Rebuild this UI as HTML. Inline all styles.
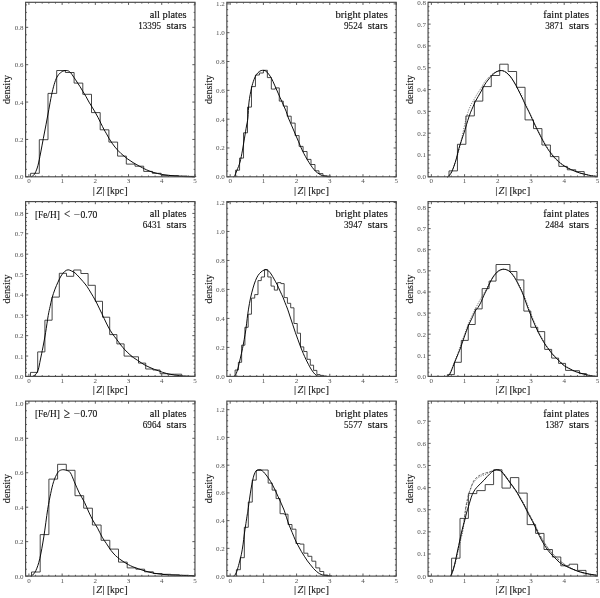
<!DOCTYPE html>
<html><head><meta charset="utf-8"><style>
html,body{margin:0;padding:0;background:#fff;overflow:hidden;}
svg{display:block;filter:grayscale(1);}
text{font-family:"Liberation Serif",serif;fill:#000;}
.tk{font-size:7.0px;fill:#505050;}
.tx{font-size:9.8px;fill:#111;stroke:#111;stroke-width:0.14px;}
.sym{font-size:12px;}
.sym2{font-size:14.5px;}
.bar{font-size:11.1px;}
.lb{font-size:10.5px;fill:#1a1a1a;stroke:#1a1a1a;stroke-width:0.14px;}
</style></head><body>
<svg width="600" height="598" viewBox="0 0 600 598">
<g><path d="M30.60,176.80 L30.60,173.30 L39.30,173.30 L39.30,139.70 L48.00,139.70 L48.00,93.40 L56.70,93.40 L56.70,70.50 L65.40,70.50 L65.40,72.50 L74.10,72.50 L74.10,83.10 L82.80,83.10 L82.80,94.30 L91.50,94.30 L91.50,112.60 L100.20,112.60 L100.20,129.80 L108.90,129.80 L108.90,142.10 L117.60,142.10 L117.60,156.10 L126.30,156.10 L126.30,164.10 L135.00,164.10 L135.00,166.20 L143.70,166.20 L143.70,171.40 L152.40,171.40 L152.40,173.30 L161.10,173.30 L161.10,175.30 L169.80,175.30 L169.80,175.50 L178.50,175.50 L178.50,176.00 L187.20,176.00 L187.20,176.40 L195.90,176.40 L195.90,176.80" fill="none" stroke="#262626" stroke-width="0.85"/><path d="M31.30,176.80 C31.62,176.60 32.55,176.25 33.20,175.60 C33.85,174.95 34.42,174.55 35.20,172.90 C35.98,171.25 37.00,169.02 37.90,165.70 C38.80,162.38 39.70,157.52 40.60,153.00 C41.50,148.48 42.38,143.40 43.30,138.60 C44.22,133.80 45.18,129.02 46.10,124.20 C47.02,119.38 47.90,114.52 48.80,109.70 C49.70,104.88 50.60,99.52 51.50,95.30 C52.40,91.08 53.30,87.42 54.20,84.40 C55.10,81.38 55.85,79.15 56.90,77.20 C57.95,75.25 59.15,73.80 60.50,72.70 C61.85,71.60 63.50,70.78 65.00,70.60 C66.50,70.42 68.00,70.45 69.50,71.60 C71.00,72.75 72.75,75.77 74.00,77.50 C75.25,79.23 76.00,80.48 77.00,82.00 C78.00,83.52 79.00,85.00 80.00,86.60 C81.00,88.20 82.00,89.93 83.00,91.60 C84.00,93.27 85.00,94.85 86.00,96.60 C87.00,98.35 87.98,100.35 89.00,102.10 C90.02,103.85 91.08,105.43 92.10,107.10 C93.12,108.77 94.10,110.35 95.10,112.10 C96.10,113.85 97.12,115.70 98.10,117.60 C99.08,119.50 100.02,121.52 101.00,123.50 C101.98,125.48 103.08,127.78 104.00,129.50 C104.92,131.22 105.67,132.32 106.50,133.80 C107.33,135.28 108.08,136.85 109.00,138.40 C109.92,139.95 111.00,141.65 112.00,143.10 C113.00,144.55 113.98,145.85 115.00,147.10 C116.02,148.35 117.08,149.52 118.10,150.60 C119.12,151.68 120.10,152.68 121.10,153.60 C122.10,154.52 123.10,155.27 124.10,156.10 C125.10,156.93 126.10,157.85 127.10,158.60 C128.10,159.35 129.10,159.93 130.10,160.60 C131.10,161.27 132.10,161.98 133.10,162.60 C134.10,163.22 135.10,163.73 136.10,164.30 C137.10,164.87 138.03,165.42 139.10,166.00 C140.17,166.58 141.27,167.17 142.50,167.80 C143.73,168.43 144.92,169.10 146.50,169.80 C148.08,170.50 150.17,171.38 152.00,172.00 C153.83,172.62 155.67,173.07 157.50,173.50 C159.33,173.93 161.17,174.28 163.00,174.60 C164.83,174.92 166.67,175.17 168.50,175.40 C170.33,175.63 172.17,175.83 174.00,176.00 C175.83,176.17 177.67,176.30 179.50,176.40 C181.33,176.50 182.42,176.53 185.00,176.60 C187.58,176.67 193.33,176.77 195.00,176.80" fill="none" stroke="#000" stroke-width="0.95" stroke-linejoin="round"/><path d="M28.92,176.80v-2.60M28.92,2.30v2.60M35.56,176.80v-1.30M35.56,2.30v1.30M42.20,176.80v-1.30M42.20,2.30v1.30M48.84,176.80v-1.30M48.84,2.30v1.30M55.49,176.80v-1.30M55.49,2.30v1.30M62.13,176.80v-2.60M62.13,2.30v2.60M68.77,176.80v-1.30M68.77,2.30v1.30M75.41,176.80v-1.30M75.41,2.30v1.30M82.05,176.80v-1.30M82.05,2.30v1.30M88.69,176.80v-1.30M88.69,2.30v1.30M95.33,176.80v-2.60M95.33,2.30v2.60M101.97,176.80v-1.30M101.97,2.30v1.30M108.61,176.80v-1.30M108.61,2.30v1.30M115.26,176.80v-1.30M115.26,2.30v1.30M121.90,176.80v-1.30M121.90,2.30v1.30M128.54,176.80v-2.60M128.54,2.30v2.60M135.18,176.80v-1.30M135.18,2.30v1.30M141.82,176.80v-1.30M141.82,2.30v1.30M148.46,176.80v-1.30M148.46,2.30v1.30M155.10,176.80v-1.30M155.10,2.30v1.30M161.74,176.80v-2.60M161.74,2.30v2.60M168.39,176.80v-1.30M168.39,2.30v1.30M175.03,176.80v-1.30M175.03,2.30v1.30M181.67,176.80v-1.30M181.67,2.30v1.30M188.31,176.80v-1.30M188.31,2.30v1.30M194.95,176.80v-2.60M194.95,2.30v2.60M25.60,176.80h2.60M194.95,176.80h-2.60M25.60,169.33h1.30M194.95,169.33h-1.30M25.60,161.85h1.30M194.95,161.85h-1.30M25.60,154.38h1.30M194.95,154.38h-1.30M25.60,146.91h1.30M194.95,146.91h-1.30M25.60,139.43h2.60M194.95,139.43h-2.60M25.60,131.96h1.30M194.95,131.96h-1.30M25.60,124.49h1.30M194.95,124.49h-1.30M25.60,117.01h1.30M194.95,117.01h-1.30M25.60,109.54h1.30M194.95,109.54h-1.30M25.60,102.07h2.60M194.95,102.07h-2.60M25.60,94.59h1.30M194.95,94.59h-1.30M25.60,87.12h1.30M194.95,87.12h-1.30M25.60,79.65h1.30M194.95,79.65h-1.30M25.60,72.17h1.30M194.95,72.17h-1.30M25.60,64.70h2.60M194.95,64.70h-2.60M25.60,57.23h1.30M194.95,57.23h-1.30M25.60,49.76h1.30M194.95,49.76h-1.30M25.60,42.28h1.30M194.95,42.28h-1.30M25.60,34.81h1.30M194.95,34.81h-1.30M25.60,27.34h2.60M194.95,27.34h-2.60M25.60,19.86h1.30M194.95,19.86h-1.30M25.60,12.39h1.30M194.95,12.39h-1.30M25.60,4.92h1.30M194.95,4.92h-1.30" stroke="#484848" stroke-width="0.9" fill="none"/><rect x="25.60" y="2.30" width="169.35" height="174.50" fill="none" stroke="#484848" stroke-width="1.15"/><text x="28.92" y="183.40" class="tk" text-anchor="middle">0</text><text x="62.13" y="183.40" class="tk" text-anchor="middle">1</text><text x="95.33" y="183.40" class="tk" text-anchor="middle">2</text><text x="128.54" y="183.40" class="tk" text-anchor="middle">3</text><text x="161.74" y="183.40" class="tk" text-anchor="middle">4</text><text x="194.95" y="183.40" class="tk" text-anchor="middle">5</text><text x="23.60" y="179.30" class="tk" text-anchor="end">0.0</text><text x="23.60" y="141.93" class="tk" text-anchor="end">0.2</text><text x="23.60" y="104.57" class="tk" text-anchor="end">0.4</text><text x="23.60" y="67.20" class="tk" text-anchor="end">0.6</text><text x="23.60" y="29.84" class="tk" text-anchor="end">0.8</text><text x="93.77" y="193.70" class="lb bar" text-anchor="middle">|</text><text x="103.47" y="193.70" class="lb bar" text-anchor="middle">|</text><text x="108.87" y="193.70" class="lb bar" text-anchor="middle">[</text><text x="125.97" y="193.70" class="lb bar" text-anchor="middle">]</text><text x="99.07" y="193.70" class="lb" font-style="italic" text-anchor="middle">Z</text><text x="116.97" y="193.70" class="lb" text-anchor="middle" textLength="13.8" lengthAdjust="spacingAndGlyphs">kpc</text><text transform="translate(10.40,89.55) rotate(-90)" class="lb" text-anchor="middle" textLength="29.10" lengthAdjust="spacingAndGlyphs">density</text><text x="186.55" y="17.75" class="tx" text-anchor="end" textLength="36.90" lengthAdjust="spacingAndGlyphs">all plates</text><text x="161.05" y="28.90" class="tx" text-anchor="end" textLength="22.80" lengthAdjust="spacingAndGlyphs">13395</text><text x="166.55" y="28.90" class="tx" textLength="20.00" lengthAdjust="spacingAndGlyphs">stars</text></g>
<g><path d="M235.60,176.80 L235.60,170.20 L239.57,170.20 L239.57,158.10 L243.54,158.10 L243.54,132.80 L247.51,132.80 L247.51,107.10 L251.48,107.10 L251.48,86.60 L255.45,86.60 L255.45,75.00 L259.42,75.00 L259.42,73.00 L263.39,73.00 L263.39,70.30 L267.36,70.30 L267.36,77.60 L271.33,77.60 L271.33,89.10 L275.30,89.10 L275.30,87.90 L279.27,87.90 L279.27,101.10 L283.24,101.10 L283.24,106.10 L287.21,106.10 L287.21,116.20 L291.18,116.20 L291.18,123.10 L295.15,123.10 L295.15,135.60 L299.12,135.60 L299.12,146.40 L303.09,146.40 L303.09,151.50 L307.06,151.50 L307.06,159.40 L311.03,159.40 L311.03,164.50 L315.00,164.50 L315.00,170.80 L318.97,170.80 L318.97,173.60 L322.94,173.60 L322.94,175.70 L326.91,175.70 L326.91,176.10 L330.88,176.10 L330.88,176.80" fill="none" stroke="#262626" stroke-width="0.85"/><path d="M233.50,176.80 C233.67,176.70 233.92,177.30 234.50,176.20 C235.08,175.10 236.08,172.55 237.00,170.20 C237.92,167.85 239.08,165.45 240.00,162.10 C240.92,158.75 241.75,154.10 242.50,150.10 C243.25,146.10 243.83,142.12 244.50,138.10 C245.17,134.08 245.93,129.35 246.50,126.00 C247.07,122.65 247.48,121.98 247.90,118.00 C248.32,114.02 248.40,107.08 249.00,102.10 C249.60,97.12 250.67,91.85 251.50,88.10 C252.33,84.35 253.17,81.87 254.00,79.60 C254.83,77.33 255.57,75.88 256.50,74.50 C257.43,73.12 258.58,72.00 259.60,71.30 C260.62,70.60 261.60,70.35 262.60,70.30 C263.60,70.25 264.60,70.38 265.60,71.00 C266.60,71.62 267.60,72.73 268.60,74.00 C269.60,75.27 270.60,76.75 271.60,78.60 C272.60,80.45 273.52,82.68 274.60,85.10 C275.68,87.52 276.85,90.27 278.10,93.10 C279.35,95.93 280.77,99.08 282.10,102.10 C283.43,105.12 285.05,108.55 286.10,111.20 C287.15,113.85 287.45,115.55 288.40,118.00 C289.35,120.45 290.67,123.25 291.80,125.90 C292.93,128.55 294.07,131.25 295.20,133.90 C296.33,136.55 297.47,139.15 298.60,141.80 C299.73,144.45 300.85,147.33 302.00,149.80 C303.15,152.27 304.35,154.52 305.50,156.60 C306.65,158.68 307.77,160.50 308.90,162.30 C310.03,164.10 311.17,165.88 312.30,167.40 C313.43,168.92 314.57,170.32 315.70,171.40 C316.83,172.48 317.97,173.18 319.10,173.90 C320.23,174.62 321.37,175.27 322.50,175.70 C323.63,176.13 324.57,176.32 325.90,176.50 C327.23,176.68 329.73,176.75 330.50,176.80" fill="none" stroke="#000" stroke-width="0.95" stroke-linejoin="round"/><path d="M230.17,176.80v-2.60M230.17,2.30v2.60M236.81,176.80v-1.30M236.81,2.30v1.30M243.45,176.80v-1.30M243.45,2.30v1.30M250.09,176.80v-1.30M250.09,2.30v1.30M256.74,176.80v-1.30M256.74,2.30v1.30M263.38,176.80v-2.60M263.38,2.30v2.60M270.02,176.80v-1.30M270.02,2.30v1.30M276.66,176.80v-1.30M276.66,2.30v1.30M283.30,176.80v-1.30M283.30,2.30v1.30M289.94,176.80v-1.30M289.94,2.30v1.30M296.58,176.80v-2.60M296.58,2.30v2.60M303.22,176.80v-1.30M303.22,2.30v1.30M309.86,176.80v-1.30M309.86,2.30v1.30M316.51,176.80v-1.30M316.51,2.30v1.30M323.15,176.80v-1.30M323.15,2.30v1.30M329.79,176.80v-2.60M329.79,2.30v2.60M336.43,176.80v-1.30M336.43,2.30v1.30M343.07,176.80v-1.30M343.07,2.30v1.30M349.71,176.80v-1.30M349.71,2.30v1.30M356.35,176.80v-1.30M356.35,2.30v1.30M362.99,176.80v-2.60M362.99,2.30v2.60M369.64,176.80v-1.30M369.64,2.30v1.30M376.28,176.80v-1.30M376.28,2.30v1.30M382.92,176.80v-1.30M382.92,2.30v1.30M389.56,176.80v-1.30M389.56,2.30v1.30M396.20,176.80v-2.60M396.20,2.30v2.60M226.85,176.80h2.60M396.20,176.80h-2.60M226.85,171.04h1.30M396.20,171.04h-1.30M226.85,165.27h1.30M396.20,165.27h-1.30M226.85,159.51h1.30M396.20,159.51h-1.30M226.85,153.74h1.30M396.20,153.74h-1.30M226.85,147.98h2.60M396.20,147.98h-2.60M226.85,142.22h1.30M396.20,142.22h-1.30M226.85,136.45h1.30M396.20,136.45h-1.30M226.85,130.69h1.30M396.20,130.69h-1.30M226.85,124.93h1.30M396.20,124.93h-1.30M226.85,119.16h2.60M396.20,119.16h-2.60M226.85,113.40h1.30M396.20,113.40h-1.30M226.85,107.63h1.30M396.20,107.63h-1.30M226.85,101.87h1.30M396.20,101.87h-1.30M226.85,96.11h1.30M396.20,96.11h-1.30M226.85,90.34h2.60M396.20,90.34h-2.60M226.85,84.58h1.30M396.20,84.58h-1.30M226.85,78.81h1.30M396.20,78.81h-1.30M226.85,73.05h1.30M396.20,73.05h-1.30M226.85,67.29h1.30M396.20,67.29h-1.30M226.85,61.52h2.60M396.20,61.52h-2.60M226.85,55.76h1.30M396.20,55.76h-1.30M226.85,50.00h1.30M396.20,50.00h-1.30M226.85,44.23h1.30M396.20,44.23h-1.30M226.85,38.47h1.30M396.20,38.47h-1.30M226.85,32.70h2.60M396.20,32.70h-2.60M226.85,26.94h1.30M396.20,26.94h-1.30M226.85,21.18h1.30M396.20,21.18h-1.30M226.85,15.41h1.30M396.20,15.41h-1.30M226.85,9.65h1.30M396.20,9.65h-1.30M226.85,3.89h2.60M396.20,3.89h-2.60" stroke="#484848" stroke-width="0.9" fill="none"/><rect x="226.85" y="2.30" width="169.35" height="174.50" fill="none" stroke="#484848" stroke-width="1.15"/><text x="230.17" y="183.40" class="tk" text-anchor="middle">0</text><text x="263.38" y="183.40" class="tk" text-anchor="middle">1</text><text x="296.58" y="183.40" class="tk" text-anchor="middle">2</text><text x="329.79" y="183.40" class="tk" text-anchor="middle">3</text><text x="362.99" y="183.40" class="tk" text-anchor="middle">4</text><text x="396.20" y="183.40" class="tk" text-anchor="middle">5</text><text x="224.85" y="179.30" class="tk" text-anchor="end">0.0</text><text x="224.85" y="150.48" class="tk" text-anchor="end">0.2</text><text x="224.85" y="121.66" class="tk" text-anchor="end">0.4</text><text x="224.85" y="92.84" class="tk" text-anchor="end">0.6</text><text x="224.85" y="64.02" class="tk" text-anchor="end">0.8</text><text x="224.85" y="35.20" class="tk" text-anchor="end">1.0</text><text x="224.85" y="6.39" class="tk" text-anchor="end">1.2</text><text x="295.02" y="193.70" class="lb bar" text-anchor="middle">|</text><text x="304.72" y="193.70" class="lb bar" text-anchor="middle">|</text><text x="310.12" y="193.70" class="lb bar" text-anchor="middle">[</text><text x="327.22" y="193.70" class="lb bar" text-anchor="middle">]</text><text x="300.32" y="193.70" class="lb" font-style="italic" text-anchor="middle">Z</text><text x="318.22" y="193.70" class="lb" text-anchor="middle" textLength="13.8" lengthAdjust="spacingAndGlyphs">kpc</text><text transform="translate(211.65,89.55) rotate(-90)" class="lb" text-anchor="middle" textLength="29.10" lengthAdjust="spacingAndGlyphs">density</text><text x="387.80" y="17.75" class="tx" text-anchor="end" textLength="52.20" lengthAdjust="spacingAndGlyphs">bright plates</text><text x="362.30" y="28.90" class="tx" text-anchor="end" textLength="18.24" lengthAdjust="spacingAndGlyphs">9524</text><text x="367.80" y="28.90" class="tx" textLength="20.00" lengthAdjust="spacingAndGlyphs">stars</text></g>
<g><path d="M449.00,176.80 L449.00,170.90 L457.45,170.90 L457.45,144.30 L465.90,144.30 L465.90,115.90 L474.35,115.90 L474.35,101.10 L482.80,101.10 L482.80,86.60 L491.25,86.60 L491.25,75.50 L499.70,75.50 L499.70,64.20 L508.15,64.20 L508.15,71.50 L516.60,71.50 L516.60,87.30 L525.05,87.30 L525.05,119.90 L533.50,119.90 L533.50,128.60 L541.95,128.60 L541.95,145.00 L550.40,145.00 L550.40,156.60 L558.85,156.60 L558.85,166.40 L567.30,166.40 L567.30,169.80 L575.75,169.80 L575.75,171.60 L584.20,171.60 L584.20,176.80" fill="none" stroke="#262626" stroke-width="0.85"/><path d="M448.00,176.50 C448.67,175.58 450.67,173.75 452.00,171.00 C453.33,168.25 454.83,163.50 456.00,160.00 C457.17,156.50 458.00,153.83 459.00,150.00 C460.00,146.17 460.92,141.82 462.00,137.00 C463.08,132.18 464.42,125.50 465.50,121.10 C466.58,116.70 467.50,113.48 468.50,110.60 C469.50,107.72 470.48,105.82 471.50,103.80 C472.52,101.78 473.58,100.25 474.60,98.50 C475.62,96.75 476.60,94.92 477.60,93.30 C478.60,91.68 479.37,90.77 480.60,88.80 C481.83,86.83 483.43,83.63 485.00,81.50 C486.57,79.37 488.33,77.55 490.00,76.00 C491.67,74.45 493.33,73.08 495.00,72.20 C496.67,71.32 498.33,70.77 500.00,70.70 C501.67,70.63 503.33,70.83 505.00,71.80 C506.67,72.77 508.33,74.55 510.00,76.50 C511.67,78.45 513.33,80.92 515.00,83.50 C516.67,86.08 518.33,88.75 520.00,92.00 C521.67,95.25 523.33,99.42 525.00,103.00 C526.67,106.58 528.33,109.92 530.00,113.50 C531.67,117.08 533.33,121.00 535.00,124.50 C536.67,128.00 538.33,131.33 540.00,134.50 C541.67,137.67 543.33,140.75 545.00,143.50 C546.67,146.25 548.33,148.67 550.00,151.00 C551.67,153.33 553.33,155.58 555.00,157.50 C556.67,159.42 558.33,161.03 560.00,162.50 C561.67,163.97 563.33,165.22 565.00,166.30 C566.67,167.38 568.33,168.18 570.00,169.00 C571.67,169.82 573.33,170.53 575.00,171.20 C576.67,171.87 578.33,172.47 580.00,173.00 C581.67,173.53 583.33,174.00 585.00,174.40 C586.67,174.80 588.00,175.08 590.00,175.40 C592.00,175.72 595.83,176.15 597.00,176.30" fill="none" stroke="#4a4a4a" stroke-width="0.8" stroke-dasharray="1.1,1.3"/><path d="M447.00,176.80 C447.17,176.78 447.33,177.30 448.00,176.70 C448.67,176.10 450.00,174.97 451.00,173.20 C452.00,171.43 453.08,168.62 454.00,166.10 C454.92,163.58 455.67,161.10 456.50,158.10 C457.33,155.10 458.15,151.10 459.00,148.10 C459.85,145.10 460.58,143.22 461.60,140.10 C462.62,136.98 464.07,132.68 465.10,129.40 C466.13,126.12 466.92,123.17 467.80,120.40 C468.68,117.63 469.53,115.07 470.40,112.80 C471.27,110.53 472.18,108.67 473.00,106.80 C473.82,104.93 474.42,103.35 475.30,101.60 C476.18,99.85 477.30,98.07 478.30,96.30 C479.30,94.53 480.27,92.88 481.30,91.00 C482.33,89.12 483.38,86.83 484.50,85.00 C485.62,83.17 486.75,81.62 488.00,80.00 C489.25,78.38 490.67,76.63 492.00,75.30 C493.33,73.97 494.67,72.78 496.00,72.00 C497.33,71.22 498.83,70.80 500.00,70.60 C501.17,70.40 502.00,70.52 503.00,70.80 C504.00,71.08 504.83,71.43 506.00,72.30 C507.17,73.17 508.67,74.38 510.00,76.00 C511.33,77.62 512.67,79.75 514.00,82.00 C515.33,84.25 516.67,86.92 518.00,89.50 C519.33,92.08 520.83,95.08 522.00,97.50 C523.17,99.92 523.67,101.23 525.00,104.00 C526.33,106.77 528.33,110.58 530.00,114.10 C531.67,117.62 533.33,121.60 535.00,125.10 C536.67,128.60 538.32,131.83 540.00,135.10 C541.68,138.37 543.53,142.00 545.10,144.70 C546.67,147.40 547.95,149.25 549.40,151.30 C550.85,153.35 552.32,155.32 553.80,157.00 C555.28,158.68 556.82,160.08 558.30,161.40 C559.78,162.72 561.23,163.87 562.70,164.90 C564.17,165.93 565.63,166.78 567.10,167.60 C568.57,168.42 570.03,169.13 571.50,169.80 C572.97,170.47 574.43,171.03 575.90,171.60 C577.37,172.17 578.82,172.77 580.30,173.20 C581.78,173.63 583.32,173.85 584.80,174.20 C586.28,174.55 587.73,175.00 589.20,175.30 C590.67,175.60 592.28,175.82 593.60,176.00 C594.92,176.18 596.52,176.33 597.10,176.40" fill="none" stroke="#000" stroke-width="0.95" stroke-linejoin="round"/><path d="M431.37,176.80v-2.60M431.37,2.30v2.60M438.01,176.80v-1.30M438.01,2.30v1.30M444.65,176.80v-1.30M444.65,2.30v1.30M451.29,176.80v-1.30M451.29,2.30v1.30M457.94,176.80v-1.30M457.94,2.30v1.30M464.58,176.80v-2.60M464.58,2.30v2.60M471.22,176.80v-1.30M471.22,2.30v1.30M477.86,176.80v-1.30M477.86,2.30v1.30M484.50,176.80v-1.30M484.50,2.30v1.30M491.14,176.80v-1.30M491.14,2.30v1.30M497.78,176.80v-2.60M497.78,2.30v2.60M504.42,176.80v-1.30M504.42,2.30v1.30M511.06,176.80v-1.30M511.06,2.30v1.30M517.71,176.80v-1.30M517.71,2.30v1.30M524.35,176.80v-1.30M524.35,2.30v1.30M530.99,176.80v-2.60M530.99,2.30v2.60M537.63,176.80v-1.30M537.63,2.30v1.30M544.27,176.80v-1.30M544.27,2.30v1.30M550.91,176.80v-1.30M550.91,2.30v1.30M557.55,176.80v-1.30M557.55,2.30v1.30M564.19,176.80v-2.60M564.19,2.30v2.60M570.84,176.80v-1.30M570.84,2.30v1.30M577.48,176.80v-1.30M577.48,2.30v1.30M584.12,176.80v-1.30M584.12,2.30v1.30M590.76,176.80v-1.30M590.76,2.30v1.30M597.40,176.80v-2.60M597.40,2.30v2.60M428.05,176.80h2.60M597.40,176.80h-2.60M428.05,172.44h1.30M597.40,172.44h-1.30M428.05,168.08h1.30M597.40,168.08h-1.30M428.05,163.71h1.30M597.40,163.71h-1.30M428.05,159.35h1.30M597.40,159.35h-1.30M428.05,154.99h2.60M597.40,154.99h-2.60M428.05,150.62h1.30M597.40,150.62h-1.30M428.05,146.26h1.30M597.40,146.26h-1.30M428.05,141.90h1.30M597.40,141.90h-1.30M428.05,137.54h1.30M597.40,137.54h-1.30M428.05,133.18h2.60M597.40,133.18h-2.60M428.05,128.81h1.30M597.40,128.81h-1.30M428.05,124.45h1.30M597.40,124.45h-1.30M428.05,120.09h1.30M597.40,120.09h-1.30M428.05,115.73h1.30M597.40,115.73h-1.30M428.05,111.36h2.60M597.40,111.36h-2.60M428.05,107.00h1.30M597.40,107.00h-1.30M428.05,102.64h1.30M597.40,102.64h-1.30M428.05,98.28h1.30M597.40,98.28h-1.30M428.05,93.91h1.30M597.40,93.91h-1.30M428.05,89.55h2.60M597.40,89.55h-2.60M428.05,85.19h1.30M597.40,85.19h-1.30M428.05,80.83h1.30M597.40,80.83h-1.30M428.05,76.46h1.30M597.40,76.46h-1.30M428.05,72.10h1.30M597.40,72.10h-1.30M428.05,67.74h2.60M597.40,67.74h-2.60M428.05,63.38h1.30M597.40,63.38h-1.30M428.05,59.01h1.30M597.40,59.01h-1.30M428.05,54.65h1.30M597.40,54.65h-1.30M428.05,50.29h1.30M597.40,50.29h-1.30M428.05,45.93h2.60M597.40,45.93h-2.60M428.05,41.56h1.30M597.40,41.56h-1.30M428.05,37.20h1.30M597.40,37.20h-1.30M428.05,32.84h1.30M597.40,32.84h-1.30M428.05,28.48h1.30M597.40,28.48h-1.30M428.05,24.11h2.60M597.40,24.11h-2.60M428.05,19.75h1.30M597.40,19.75h-1.30M428.05,15.39h1.30M597.40,15.39h-1.30M428.05,11.03h1.30M597.40,11.03h-1.30M428.05,6.66h1.30M597.40,6.66h-1.30M428.05,2.30h2.60M597.40,2.30h-2.60" stroke="#484848" stroke-width="0.9" fill="none"/><rect x="428.05" y="2.30" width="169.35" height="174.50" fill="none" stroke="#484848" stroke-width="1.15"/><text x="431.37" y="183.40" class="tk" text-anchor="middle">0</text><text x="464.58" y="183.40" class="tk" text-anchor="middle">1</text><text x="497.78" y="183.40" class="tk" text-anchor="middle">2</text><text x="530.99" y="183.40" class="tk" text-anchor="middle">3</text><text x="564.19" y="183.40" class="tk" text-anchor="middle">4</text><text x="597.40" y="183.40" class="tk" text-anchor="middle">5</text><text x="426.05" y="179.30" class="tk" text-anchor="end">0.0</text><text x="426.05" y="157.49" class="tk" text-anchor="end">0.1</text><text x="426.05" y="135.68" class="tk" text-anchor="end">0.2</text><text x="426.05" y="113.86" class="tk" text-anchor="end">0.3</text><text x="426.05" y="92.05" class="tk" text-anchor="end">0.4</text><text x="426.05" y="70.24" class="tk" text-anchor="end">0.5</text><text x="426.05" y="48.42" class="tk" text-anchor="end">0.6</text><text x="426.05" y="26.61" class="tk" text-anchor="end">0.7</text><text x="426.05" y="4.80" class="tk" text-anchor="end">0.8</text><text x="496.23" y="193.70" class="lb bar" text-anchor="middle">|</text><text x="505.93" y="193.70" class="lb bar" text-anchor="middle">|</text><text x="511.33" y="193.70" class="lb bar" text-anchor="middle">[</text><text x="528.43" y="193.70" class="lb bar" text-anchor="middle">]</text><text x="501.53" y="193.70" class="lb" font-style="italic" text-anchor="middle">Z</text><text x="519.43" y="193.70" class="lb" text-anchor="middle" textLength="13.8" lengthAdjust="spacingAndGlyphs">kpc</text><text transform="translate(412.85,89.55) rotate(-90)" class="lb" text-anchor="middle" textLength="29.10" lengthAdjust="spacingAndGlyphs">density</text><text x="589.00" y="17.75" class="tx" text-anchor="end" textLength="45.70" lengthAdjust="spacingAndGlyphs">faint plates</text><text x="563.50" y="28.90" class="tx" text-anchor="end" textLength="18.24" lengthAdjust="spacingAndGlyphs">3871</text><text x="569.00" y="28.90" class="tx" textLength="20.00" lengthAdjust="spacingAndGlyphs">stars</text></g>
<g><path d="M30.50,376.40 L30.50,372.40 L37.70,372.40 L37.70,351.90 L44.90,351.90 L44.90,320.20 L52.10,320.20 L52.10,297.10 L59.30,297.10 L59.30,273.30 L66.50,273.30 L66.50,276.30 L73.70,276.30 L73.70,270.00 L80.90,270.00 L80.90,273.50 L88.10,273.50 L88.10,285.30 L95.30,285.30 L95.30,301.30 L102.50,301.30 L102.50,317.20 L109.70,317.20 L109.70,334.60 L116.90,334.60 L116.90,343.90 L124.10,343.90 L124.10,356.10 L131.30,356.10 L131.30,356.80 L138.50,356.80 L138.50,363.10 L145.70,363.10 L145.70,369.00 L152.90,369.00 L152.90,370.00 L160.10,370.00 L160.10,373.70 L167.30,373.70 L167.30,374.20 L174.50,374.20 L174.50,374.20 L181.70,374.20 L181.70,376.40" fill="none" stroke="#262626" stroke-width="0.85"/><path d="M32.50,376.40 C33.05,376.05 34.82,375.52 35.80,374.30 C36.78,373.08 37.65,371.48 38.40,369.10 C39.15,366.72 39.53,363.70 40.30,360.00 C41.07,356.30 42.12,351.47 43.00,346.90 C43.88,342.33 44.73,337.82 45.60,332.60 C46.47,327.38 47.45,319.95 48.20,315.60 C48.95,311.25 49.47,309.42 50.10,306.50 C50.73,303.58 51.18,301.00 52.00,298.10 C52.82,295.20 54.00,291.77 55.00,289.10 C56.00,286.43 57.00,284.28 58.00,282.10 C59.00,279.92 59.90,277.77 61.00,276.00 C62.10,274.23 63.42,272.53 64.60,271.50 C65.78,270.47 66.93,269.88 68.10,269.80 C69.27,269.72 70.43,270.47 71.60,271.00 C72.77,271.53 73.85,271.98 75.10,273.00 C76.35,274.02 77.77,275.67 79.10,277.10 C80.43,278.53 81.77,280.02 83.10,281.60 C84.43,283.18 85.77,284.68 87.10,286.60 C88.43,288.52 89.75,290.85 91.10,293.10 C92.45,295.35 93.85,297.60 95.20,300.10 C96.55,302.60 97.70,305.02 99.20,308.10 C100.70,311.18 102.68,315.45 104.20,318.60 C105.72,321.75 106.92,324.45 108.30,327.00 C109.68,329.55 111.10,331.83 112.50,333.90 C113.90,335.97 115.32,337.55 116.70,339.40 C118.08,341.25 119.42,343.25 120.80,345.00 C122.18,346.75 123.60,348.40 125.00,349.90 C126.40,351.40 127.82,352.73 129.20,354.00 C130.58,355.27 131.92,356.45 133.30,357.50 C134.68,358.55 136.10,359.37 137.50,360.30 C138.90,361.23 140.32,362.22 141.70,363.10 C143.08,363.98 144.42,364.87 145.80,365.60 C147.18,366.33 148.60,366.88 150.00,367.50 C151.40,368.12 152.82,368.77 154.20,369.30 C155.58,369.83 156.92,370.20 158.30,370.70 C159.68,371.20 161.10,371.83 162.50,372.30 C163.90,372.77 165.32,373.15 166.70,373.50 C168.08,373.85 169.42,374.13 170.80,374.40 C172.18,374.67 173.60,374.90 175.00,375.10 C176.40,375.30 177.80,375.46 179.20,375.60 C180.60,375.74 181.65,375.84 183.40,375.95 C185.15,376.06 187.77,376.18 189.70,376.25 C191.63,376.32 194.12,376.33 195.00,376.35" fill="none" stroke="#000" stroke-width="0.95" stroke-linejoin="round"/><path d="M28.92,376.40v-2.60M28.92,201.60v2.60M35.56,376.40v-1.30M35.56,201.60v1.30M42.20,376.40v-1.30M42.20,201.60v1.30M48.84,376.40v-1.30M48.84,201.60v1.30M55.49,376.40v-1.30M55.49,201.60v1.30M62.13,376.40v-2.60M62.13,201.60v2.60M68.77,376.40v-1.30M68.77,201.60v1.30M75.41,376.40v-1.30M75.41,201.60v1.30M82.05,376.40v-1.30M82.05,201.60v1.30M88.69,376.40v-1.30M88.69,201.60v1.30M95.33,376.40v-2.60M95.33,201.60v2.60M101.97,376.40v-1.30M101.97,201.60v1.30M108.61,376.40v-1.30M108.61,201.60v1.30M115.26,376.40v-1.30M115.26,201.60v1.30M121.90,376.40v-1.30M121.90,201.60v1.30M128.54,376.40v-2.60M128.54,201.60v2.60M135.18,376.40v-1.30M135.18,201.60v1.30M141.82,376.40v-1.30M141.82,201.60v1.30M148.46,376.40v-1.30M148.46,201.60v1.30M155.10,376.40v-1.30M155.10,201.60v1.30M161.74,376.40v-2.60M161.74,201.60v2.60M168.39,376.40v-1.30M168.39,201.60v1.30M175.03,376.40v-1.30M175.03,201.60v1.30M181.67,376.40v-1.30M181.67,201.60v1.30M188.31,376.40v-1.30M188.31,201.60v1.30M194.95,376.40v-2.60M194.95,201.60v2.60M25.60,376.40h2.60M194.95,376.40h-2.60M25.60,372.33h1.30M194.95,372.33h-1.30M25.60,368.25h1.30M194.95,368.25h-1.30M25.60,364.18h1.30M194.95,364.18h-1.30M25.60,360.10h1.30M194.95,360.10h-1.30M25.60,356.03h2.60M194.95,356.03h-2.60M25.60,351.95h1.30M194.95,351.95h-1.30M25.60,347.88h1.30M194.95,347.88h-1.30M25.60,343.80h1.30M194.95,343.80h-1.30M25.60,339.73h1.30M194.95,339.73h-1.30M25.60,335.65h2.60M194.95,335.65h-2.60M25.60,331.58h1.30M194.95,331.58h-1.30M25.60,327.50h1.30M194.95,327.50h-1.30M25.60,323.43h1.30M194.95,323.43h-1.30M25.60,319.36h1.30M194.95,319.36h-1.30M25.60,315.28h2.60M194.95,315.28h-2.60M25.60,311.21h1.30M194.95,311.21h-1.30M25.60,307.13h1.30M194.95,307.13h-1.30M25.60,303.06h1.30M194.95,303.06h-1.30M25.60,298.98h1.30M194.95,298.98h-1.30M25.60,294.91h2.60M194.95,294.91h-2.60M25.60,290.83h1.30M194.95,290.83h-1.30M25.60,286.76h1.30M194.95,286.76h-1.30M25.60,282.68h1.30M194.95,282.68h-1.30M25.60,278.61h1.30M194.95,278.61h-1.30M25.60,274.54h2.60M194.95,274.54h-2.60M25.60,270.46h1.30M194.95,270.46h-1.30M25.60,266.39h1.30M194.95,266.39h-1.30M25.60,262.31h1.30M194.95,262.31h-1.30M25.60,258.24h1.30M194.95,258.24h-1.30M25.60,254.16h2.60M194.95,254.16h-2.60M25.60,250.09h1.30M194.95,250.09h-1.30M25.60,246.01h1.30M194.95,246.01h-1.30M25.60,241.94h1.30M194.95,241.94h-1.30M25.60,237.86h1.30M194.95,237.86h-1.30M25.60,233.79h2.60M194.95,233.79h-2.60M25.60,229.71h1.30M194.95,229.71h-1.30M25.60,225.64h1.30M194.95,225.64h-1.30M25.60,221.57h1.30M194.95,221.57h-1.30M25.60,217.49h1.30M194.95,217.49h-1.30M25.60,213.42h2.60M194.95,213.42h-2.60M25.60,209.34h1.30M194.95,209.34h-1.30M25.60,205.27h1.30M194.95,205.27h-1.30" stroke="#484848" stroke-width="0.9" fill="none"/><rect x="25.60" y="201.60" width="169.35" height="174.80" fill="none" stroke="#484848" stroke-width="1.15"/><text x="28.92" y="383.00" class="tk" text-anchor="middle">0</text><text x="62.13" y="383.00" class="tk" text-anchor="middle">1</text><text x="95.33" y="383.00" class="tk" text-anchor="middle">2</text><text x="128.54" y="383.00" class="tk" text-anchor="middle">3</text><text x="161.74" y="383.00" class="tk" text-anchor="middle">4</text><text x="194.95" y="383.00" class="tk" text-anchor="middle">5</text><text x="23.60" y="378.90" class="tk" text-anchor="end">0.0</text><text x="23.60" y="358.53" class="tk" text-anchor="end">0.1</text><text x="23.60" y="338.15" class="tk" text-anchor="end">0.2</text><text x="23.60" y="317.78" class="tk" text-anchor="end">0.3</text><text x="23.60" y="297.41" class="tk" text-anchor="end">0.4</text><text x="23.60" y="277.04" class="tk" text-anchor="end">0.5</text><text x="23.60" y="256.66" class="tk" text-anchor="end">0.6</text><text x="23.60" y="236.29" class="tk" text-anchor="end">0.7</text><text x="23.60" y="215.92" class="tk" text-anchor="end">0.8</text><text x="93.77" y="393.30" class="lb bar" text-anchor="middle">|</text><text x="103.47" y="393.30" class="lb bar" text-anchor="middle">|</text><text x="108.87" y="393.30" class="lb bar" text-anchor="middle">[</text><text x="125.97" y="393.30" class="lb bar" text-anchor="middle">]</text><text x="99.07" y="393.30" class="lb" font-style="italic" text-anchor="middle">Z</text><text x="116.97" y="393.30" class="lb" text-anchor="middle" textLength="13.8" lengthAdjust="spacingAndGlyphs">kpc</text><text transform="translate(10.40,289.00) rotate(-90)" class="lb" text-anchor="middle" textLength="29.10" lengthAdjust="spacingAndGlyphs">density</text><text x="186.55" y="217.05" class="tx" text-anchor="end" textLength="36.90" lengthAdjust="spacingAndGlyphs">all plates</text><text x="161.05" y="228.20" class="tx" text-anchor="end" textLength="18.24" lengthAdjust="spacingAndGlyphs">6431</text><text x="166.55" y="228.20" class="tx" textLength="20.00" lengthAdjust="spacingAndGlyphs">stars</text><text x="34.90" y="217.80" class="tx" textLength="24.9" lengthAdjust="spacingAndGlyphs">[Fe/H]</text><text x="67.10" y="217.60" class="tx sym" text-anchor="middle" textLength="6.2" lengthAdjust="spacingAndGlyphs">&lt;</text><text x="73.80" y="217.80" class="tx" textLength="6.3" lengthAdjust="spacingAndGlyphs">&#8722;</text><text x="80.50" y="217.80" class="tx" textLength="16.9" lengthAdjust="spacingAndGlyphs">0.70</text></g>
<g><path d="M235.10,376.40 L235.10,370.00 L238.37,370.00 L238.37,362.30 L241.64,362.30 L241.64,345.20 L244.91,345.20 L244.91,327.30 L248.18,327.30 L248.18,314.20 L251.45,314.20 L251.45,298.10 L254.72,298.10 L254.72,294.60 L257.99,294.60 L257.99,280.60 L261.26,280.60 L261.26,277.00 L264.53,277.00 L264.53,269.80 L267.80,269.80 L267.80,277.00 L271.07,277.00 L271.07,286.10 L274.34,286.10 L274.34,290.10 L277.61,290.10 L277.61,282.60 L280.88,282.60 L280.88,283.60 L284.15,283.60 L284.15,297.60 L287.42,297.60 L287.42,303.30 L290.69,303.30 L290.69,307.80 L293.96,307.80 L293.96,323.50 L297.23,323.50 L297.23,333.20 L300.50,333.20 L300.50,346.90 L303.77,346.90 L303.77,351.50 L307.04,351.50 L307.04,359.30 L310.31,359.30 L310.31,365.20 L313.58,365.20 L313.58,370.40 L316.85,370.40 L316.85,374.60 L320.12,374.60 L320.12,375.40 L323.39,375.40 L323.39,376.00 L326.66,376.00 L326.66,376.40" fill="none" stroke="#262626" stroke-width="0.85"/><path d="M233.50,376.40 C233.87,376.13 234.95,376.20 235.70,374.80 C236.45,373.40 237.25,370.65 238.00,368.00 C238.75,365.35 239.45,362.13 240.20,358.90 C240.95,355.67 241.83,351.83 242.50,348.60 C243.17,345.37 243.63,342.72 244.20,339.50 C244.77,336.28 245.40,332.80 245.90,329.30 C246.40,325.80 246.77,321.87 247.20,318.50 C247.63,315.13 247.95,312.50 248.50,309.10 C249.05,305.70 249.75,301.60 250.50,298.10 C251.25,294.60 252.17,291.02 253.00,288.10 C253.83,285.18 254.67,282.70 255.50,280.60 C256.33,278.50 257.08,276.93 258.00,275.50 C258.92,274.07 259.98,272.92 261.00,272.00 C262.02,271.08 263.25,270.42 264.10,270.00 C264.95,269.58 265.35,269.33 266.10,269.50 C266.85,269.67 267.77,270.25 268.60,271.00 C269.43,271.75 270.18,272.65 271.10,274.00 C272.02,275.35 273.10,277.33 274.10,279.10 C275.10,280.87 276.10,282.60 277.10,284.60 C278.10,286.60 279.10,288.93 280.10,291.10 C281.10,293.27 282.28,295.68 283.10,297.60 C283.92,299.52 284.25,300.68 285.00,302.60 C285.75,304.52 286.73,306.70 287.60,309.10 C288.47,311.50 289.33,314.38 290.20,317.00 C291.07,319.62 291.93,322.20 292.80,324.80 C293.67,327.40 294.53,330.10 295.40,332.60 C296.27,335.10 297.13,337.42 298.00,339.80 C298.87,342.18 299.72,344.62 300.60,346.90 C301.48,349.18 302.42,351.43 303.30,353.50 C304.18,355.57 305.03,357.47 305.90,359.30 C306.77,361.13 307.63,362.87 308.50,364.50 C309.37,366.13 310.23,367.72 311.10,369.10 C311.97,370.48 312.83,371.75 313.70,372.80 C314.57,373.85 315.43,374.82 316.30,375.40 C317.17,375.98 318.03,376.13 318.90,376.30 C319.77,376.47 321.07,376.38 321.50,376.40" fill="none" stroke="#000" stroke-width="0.95" stroke-linejoin="round"/><path d="M230.17,376.40v-2.60M230.17,201.60v2.60M236.81,376.40v-1.30M236.81,201.60v1.30M243.45,376.40v-1.30M243.45,201.60v1.30M250.09,376.40v-1.30M250.09,201.60v1.30M256.74,376.40v-1.30M256.74,201.60v1.30M263.38,376.40v-2.60M263.38,201.60v2.60M270.02,376.40v-1.30M270.02,201.60v1.30M276.66,376.40v-1.30M276.66,201.60v1.30M283.30,376.40v-1.30M283.30,201.60v1.30M289.94,376.40v-1.30M289.94,201.60v1.30M296.58,376.40v-2.60M296.58,201.60v2.60M303.22,376.40v-1.30M303.22,201.60v1.30M309.86,376.40v-1.30M309.86,201.60v1.30M316.51,376.40v-1.30M316.51,201.60v1.30M323.15,376.40v-1.30M323.15,201.60v1.30M329.79,376.40v-2.60M329.79,201.60v2.60M336.43,376.40v-1.30M336.43,201.60v1.30M343.07,376.40v-1.30M343.07,201.60v1.30M349.71,376.40v-1.30M349.71,201.60v1.30M356.35,376.40v-1.30M356.35,201.60v1.30M362.99,376.40v-2.60M362.99,201.60v2.60M369.64,376.40v-1.30M369.64,201.60v1.30M376.28,376.40v-1.30M376.28,201.60v1.30M382.92,376.40v-1.30M382.92,201.60v1.30M389.56,376.40v-1.30M389.56,201.60v1.30M396.20,376.40v-2.60M396.20,201.60v2.60M226.85,376.40h2.60M396.20,376.40h-2.60M226.85,370.60h1.30M396.20,370.60h-1.30M226.85,364.80h1.30M396.20,364.80h-1.30M226.85,359.01h1.30M396.20,359.01h-1.30M226.85,353.21h1.30M396.20,353.21h-1.30M226.85,347.41h2.60M396.20,347.41h-2.60M226.85,341.61h1.30M396.20,341.61h-1.30M226.85,335.82h1.30M396.20,335.82h-1.30M226.85,330.02h1.30M396.20,330.02h-1.30M226.85,324.22h1.30M396.20,324.22h-1.30M226.85,318.42h2.60M396.20,318.42h-2.60M226.85,312.63h1.30M396.20,312.63h-1.30M226.85,306.83h1.30M396.20,306.83h-1.30M226.85,301.03h1.30M396.20,301.03h-1.30M226.85,295.23h1.30M396.20,295.23h-1.30M226.85,289.43h2.60M396.20,289.43h-2.60M226.85,283.64h1.30M396.20,283.64h-1.30M226.85,277.84h1.30M396.20,277.84h-1.30M226.85,272.04h1.30M396.20,272.04h-1.30M226.85,266.24h1.30M396.20,266.24h-1.30M226.85,260.45h2.60M396.20,260.45h-2.60M226.85,254.65h1.30M396.20,254.65h-1.30M226.85,248.85h1.30M396.20,248.85h-1.30M226.85,243.05h1.30M396.20,243.05h-1.30M226.85,237.26h1.30M396.20,237.26h-1.30M226.85,231.46h2.60M396.20,231.46h-2.60M226.85,225.66h1.30M396.20,225.66h-1.30M226.85,219.86h1.30M396.20,219.86h-1.30M226.85,214.07h1.30M396.20,214.07h-1.30M226.85,208.27h1.30M396.20,208.27h-1.30M226.85,202.47h2.60M396.20,202.47h-2.60" stroke="#484848" stroke-width="0.9" fill="none"/><rect x="226.85" y="201.60" width="169.35" height="174.80" fill="none" stroke="#484848" stroke-width="1.15"/><text x="230.17" y="383.00" class="tk" text-anchor="middle">0</text><text x="263.38" y="383.00" class="tk" text-anchor="middle">1</text><text x="296.58" y="383.00" class="tk" text-anchor="middle">2</text><text x="329.79" y="383.00" class="tk" text-anchor="middle">3</text><text x="362.99" y="383.00" class="tk" text-anchor="middle">4</text><text x="396.20" y="383.00" class="tk" text-anchor="middle">5</text><text x="224.85" y="378.90" class="tk" text-anchor="end">0.0</text><text x="224.85" y="349.91" class="tk" text-anchor="end">0.2</text><text x="224.85" y="320.92" class="tk" text-anchor="end">0.4</text><text x="224.85" y="291.93" class="tk" text-anchor="end">0.6</text><text x="224.85" y="262.95" class="tk" text-anchor="end">0.8</text><text x="224.85" y="233.96" class="tk" text-anchor="end">1.0</text><text x="224.85" y="204.97" class="tk" text-anchor="end">1.2</text><text x="295.02" y="393.30" class="lb bar" text-anchor="middle">|</text><text x="304.72" y="393.30" class="lb bar" text-anchor="middle">|</text><text x="310.12" y="393.30" class="lb bar" text-anchor="middle">[</text><text x="327.22" y="393.30" class="lb bar" text-anchor="middle">]</text><text x="300.32" y="393.30" class="lb" font-style="italic" text-anchor="middle">Z</text><text x="318.22" y="393.30" class="lb" text-anchor="middle" textLength="13.8" lengthAdjust="spacingAndGlyphs">kpc</text><text transform="translate(211.65,289.00) rotate(-90)" class="lb" text-anchor="middle" textLength="29.10" lengthAdjust="spacingAndGlyphs">density</text><text x="387.80" y="217.05" class="tx" text-anchor="end" textLength="52.20" lengthAdjust="spacingAndGlyphs">bright plates</text><text x="362.30" y="228.20" class="tx" text-anchor="end" textLength="18.24" lengthAdjust="spacingAndGlyphs">3947</text><text x="367.80" y="228.20" class="tx" textLength="20.00" lengthAdjust="spacingAndGlyphs">stars</text></g>
<g><path d="M447.40,376.40 L447.40,374.60 L454.35,374.60 L454.35,362.30 L461.30,362.30 L461.30,340.40 L468.25,340.40 L468.25,324.50 L475.20,324.50 L475.20,308.90 L482.15,308.90 L482.15,288.60 L489.10,288.60 L489.10,281.10 L496.05,281.10 L496.05,264.50 L503.00,264.50 L503.00,264.50 L509.95,264.50 L509.95,271.50 L516.90,271.50 L516.90,279.90 L523.85,279.90 L523.85,311.10 L530.80,311.10 L530.80,327.30 L537.75,327.30 L537.75,331.60 L544.70,331.60 L544.70,349.40 L551.65,349.40 L551.65,358.10 L558.60,358.10 L558.60,363.40 L565.55,363.40 L565.55,370.40 L572.50,370.40 L572.50,370.70 L579.45,370.70 L579.45,373.60 L586.40,373.60 L586.40,376.40" fill="none" stroke="#262626" stroke-width="0.85"/><path d="M447.00,376.30 C447.50,375.67 449.00,374.22 450.00,372.50 C451.00,370.78 452.00,368.42 453.00,366.00 C454.00,363.58 455.00,360.67 456.00,358.00 C457.00,355.33 458.00,352.75 459.00,350.00 C460.00,347.25 461.00,344.33 462.00,341.50 C463.00,338.67 464.00,335.75 465.00,333.00 C466.00,330.25 467.00,327.50 468.00,325.00 C469.00,322.50 470.00,320.25 471.00,318.00 C472.00,315.75 473.00,313.58 474.00,311.50 C475.00,309.42 476.00,307.42 477.00,305.50 C478.00,303.58 478.83,302.08 480.00,300.00 C481.17,297.92 482.67,295.33 484.00,293.00 C485.33,290.67 486.67,288.33 488.00,286.00 C489.33,283.67 490.67,281.00 492.00,279.00 C493.33,277.00 494.67,275.42 496.00,274.00 C497.33,272.58 498.67,271.30 500.00,270.50 C501.33,269.70 502.67,269.25 504.00,269.20 C505.33,269.15 506.67,269.48 508.00,270.20 C509.33,270.92 510.67,272.03 512.00,273.50 C513.33,274.97 514.67,276.83 516.00,279.00 C517.33,281.17 518.67,283.75 520.00,286.50 C521.33,289.25 522.67,292.25 524.00,295.50 C525.33,298.75 526.67,302.50 528.00,306.00 C529.33,309.50 530.67,313.17 532.00,316.50 C533.33,319.83 534.67,323.00 536.00,326.00 C537.33,329.00 538.50,331.58 540.00,334.50 C541.50,337.42 543.33,340.83 545.00,343.50 C546.67,346.17 548.33,348.33 550.00,350.50 C551.67,352.67 553.33,354.67 555.00,356.50 C556.67,358.33 558.33,360.00 560.00,361.50 C561.67,363.00 563.33,364.30 565.00,365.50 C566.67,366.70 568.33,367.77 570.00,368.70 C571.67,369.63 573.33,370.40 575.00,371.10 C576.67,371.80 578.17,372.33 580.00,372.90 C581.83,373.47 584.00,374.03 586.00,374.50 C588.00,374.97 590.17,375.38 592.00,375.70 C593.83,376.02 596.17,376.28 597.00,376.40" fill="none" stroke="#4a4a4a" stroke-width="0.8" stroke-dasharray="1.1,1.3"/><path d="M446.50,376.40 C446.72,376.38 447.15,376.87 447.80,376.30 C448.45,375.73 449.53,374.63 450.40,373.00 C451.27,371.37 452.13,368.67 453.00,366.50 C453.87,364.33 454.72,362.17 455.60,360.00 C456.48,357.83 457.42,355.68 458.30,353.50 C459.18,351.32 460.03,349.30 460.90,346.90 C461.77,344.50 462.63,341.60 463.50,339.10 C464.37,336.60 465.23,334.28 466.10,331.90 C466.97,329.52 467.73,327.07 468.70,324.80 C469.67,322.53 470.82,320.58 471.90,318.30 C472.98,316.02 474.18,312.90 475.20,311.10 C476.22,309.30 477.03,309.00 478.00,307.50 C478.97,306.00 480.00,304.17 481.00,302.10 C482.00,300.03 483.00,297.27 484.00,295.10 C485.00,292.93 486.00,291.18 487.00,289.10 C488.00,287.02 489.00,284.62 490.00,282.60 C491.00,280.58 491.98,278.60 493.00,277.00 C494.02,275.40 495.08,274.08 496.10,273.00 C497.12,271.92 497.93,271.13 499.10,270.50 C500.27,269.87 501.77,269.28 503.10,269.20 C504.43,269.12 505.93,269.53 507.10,270.00 C508.27,270.47 509.10,271.08 510.10,272.00 C511.10,272.92 512.10,274.15 513.10,275.50 C514.10,276.85 515.10,278.33 516.10,280.10 C517.10,281.87 518.10,284.10 519.10,286.10 C520.10,288.10 521.10,289.77 522.10,292.10 C523.10,294.43 524.10,297.37 525.10,300.10 C526.10,302.83 527.03,305.68 528.10,308.50 C529.17,311.32 530.35,314.22 531.50,317.00 C532.65,319.78 533.83,322.57 535.00,325.20 C536.17,327.83 537.33,330.47 538.50,332.80 C539.67,335.13 540.83,337.17 542.00,339.20 C543.17,341.23 544.33,343.25 545.50,345.00 C546.67,346.75 547.83,348.15 549.00,349.70 C550.17,351.25 551.33,352.95 552.50,354.30 C553.67,355.65 554.83,356.63 556.00,357.80 C557.17,358.97 558.33,360.13 559.50,361.30 C560.67,362.47 561.83,363.82 563.00,364.80 C564.17,365.78 565.33,366.52 566.50,367.20 C567.67,367.88 568.63,368.22 570.00,368.90 C571.37,369.58 572.95,370.58 574.70,371.30 C576.45,372.02 578.57,372.62 580.50,373.20 C582.43,373.78 584.35,374.35 586.30,374.80 C588.25,375.25 590.45,375.62 592.20,375.90 C593.95,376.18 596.03,376.40 596.80,376.50" fill="none" stroke="#000" stroke-width="0.95" stroke-linejoin="round"/><path d="M431.37,376.40v-2.60M431.37,201.60v2.60M438.01,376.40v-1.30M438.01,201.60v1.30M444.65,376.40v-1.30M444.65,201.60v1.30M451.29,376.40v-1.30M451.29,201.60v1.30M457.94,376.40v-1.30M457.94,201.60v1.30M464.58,376.40v-2.60M464.58,201.60v2.60M471.22,376.40v-1.30M471.22,201.60v1.30M477.86,376.40v-1.30M477.86,201.60v1.30M484.50,376.40v-1.30M484.50,201.60v1.30M491.14,376.40v-1.30M491.14,201.60v1.30M497.78,376.40v-2.60M497.78,201.60v2.60M504.42,376.40v-1.30M504.42,201.60v1.30M511.06,376.40v-1.30M511.06,201.60v1.30M517.71,376.40v-1.30M517.71,201.60v1.30M524.35,376.40v-1.30M524.35,201.60v1.30M530.99,376.40v-2.60M530.99,201.60v2.60M537.63,376.40v-1.30M537.63,201.60v1.30M544.27,376.40v-1.30M544.27,201.60v1.30M550.91,376.40v-1.30M550.91,201.60v1.30M557.55,376.40v-1.30M557.55,201.60v1.30M564.19,376.40v-2.60M564.19,201.60v2.60M570.84,376.40v-1.30M570.84,201.60v1.30M577.48,376.40v-1.30M577.48,201.60v1.30M584.12,376.40v-1.30M584.12,201.60v1.30M590.76,376.40v-1.30M590.76,201.60v1.30M597.40,376.40v-2.60M597.40,201.60v2.60M428.05,376.40h2.60M597.40,376.40h-2.60M428.05,372.18h1.30M597.40,372.18h-1.30M428.05,367.96h1.30M597.40,367.96h-1.30M428.05,363.73h1.30M597.40,363.73h-1.30M428.05,359.51h1.30M597.40,359.51h-1.30M428.05,355.29h2.60M597.40,355.29h-2.60M428.05,351.07h1.30M597.40,351.07h-1.30M428.05,346.84h1.30M597.40,346.84h-1.30M428.05,342.62h1.30M597.40,342.62h-1.30M428.05,338.40h1.30M597.40,338.40h-1.30M428.05,334.18h2.60M597.40,334.18h-2.60M428.05,329.96h1.30M597.40,329.96h-1.30M428.05,325.73h1.30M597.40,325.73h-1.30M428.05,321.51h1.30M597.40,321.51h-1.30M428.05,317.29h1.30M597.40,317.29h-1.30M428.05,313.07h2.60M597.40,313.07h-2.60M428.05,308.84h1.30M597.40,308.84h-1.30M428.05,304.62h1.30M597.40,304.62h-1.30M428.05,300.40h1.30M597.40,300.40h-1.30M428.05,296.18h1.30M597.40,296.18h-1.30M428.05,291.96h2.60M597.40,291.96h-2.60M428.05,287.73h1.30M597.40,287.73h-1.30M428.05,283.51h1.30M597.40,283.51h-1.30M428.05,279.29h1.30M597.40,279.29h-1.30M428.05,275.07h1.30M597.40,275.07h-1.30M428.05,270.84h2.60M597.40,270.84h-2.60M428.05,266.62h1.30M597.40,266.62h-1.30M428.05,262.40h1.30M597.40,262.40h-1.30M428.05,258.18h1.30M597.40,258.18h-1.30M428.05,253.96h1.30M597.40,253.96h-1.30M428.05,249.73h2.60M597.40,249.73h-2.60M428.05,245.51h1.30M597.40,245.51h-1.30M428.05,241.29h1.30M597.40,241.29h-1.30M428.05,237.07h1.30M597.40,237.07h-1.30M428.05,232.84h1.30M597.40,232.84h-1.30M428.05,228.62h2.60M597.40,228.62h-2.60M428.05,224.40h1.30M597.40,224.40h-1.30M428.05,220.18h1.30M597.40,220.18h-1.30M428.05,215.96h1.30M597.40,215.96h-1.30M428.05,211.73h1.30M597.40,211.73h-1.30M428.05,207.51h2.60M597.40,207.51h-2.60M428.05,203.29h1.30M597.40,203.29h-1.30" stroke="#484848" stroke-width="0.9" fill="none"/><rect x="428.05" y="201.60" width="169.35" height="174.80" fill="none" stroke="#484848" stroke-width="1.15"/><text x="431.37" y="383.00" class="tk" text-anchor="middle">0</text><text x="464.58" y="383.00" class="tk" text-anchor="middle">1</text><text x="497.78" y="383.00" class="tk" text-anchor="middle">2</text><text x="530.99" y="383.00" class="tk" text-anchor="middle">3</text><text x="564.19" y="383.00" class="tk" text-anchor="middle">4</text><text x="597.40" y="383.00" class="tk" text-anchor="middle">5</text><text x="426.05" y="378.90" class="tk" text-anchor="end">0.0</text><text x="426.05" y="357.79" class="tk" text-anchor="end">0.1</text><text x="426.05" y="336.68" class="tk" text-anchor="end">0.2</text><text x="426.05" y="315.57" class="tk" text-anchor="end">0.3</text><text x="426.05" y="294.46" class="tk" text-anchor="end">0.4</text><text x="426.05" y="273.34" class="tk" text-anchor="end">0.5</text><text x="426.05" y="252.23" class="tk" text-anchor="end">0.6</text><text x="426.05" y="231.12" class="tk" text-anchor="end">0.7</text><text x="426.05" y="210.01" class="tk" text-anchor="end">0.8</text><text x="496.23" y="393.30" class="lb bar" text-anchor="middle">|</text><text x="505.93" y="393.30" class="lb bar" text-anchor="middle">|</text><text x="511.33" y="393.30" class="lb bar" text-anchor="middle">[</text><text x="528.43" y="393.30" class="lb bar" text-anchor="middle">]</text><text x="501.53" y="393.30" class="lb" font-style="italic" text-anchor="middle">Z</text><text x="519.43" y="393.30" class="lb" text-anchor="middle" textLength="13.8" lengthAdjust="spacingAndGlyphs">kpc</text><text transform="translate(412.85,289.00) rotate(-90)" class="lb" text-anchor="middle" textLength="29.10" lengthAdjust="spacingAndGlyphs">density</text><text x="589.00" y="217.05" class="tx" text-anchor="end" textLength="45.70" lengthAdjust="spacingAndGlyphs">faint plates</text><text x="563.50" y="228.20" class="tx" text-anchor="end" textLength="18.24" lengthAdjust="spacingAndGlyphs">2484</text><text x="569.00" y="228.20" class="tx" textLength="20.00" lengthAdjust="spacingAndGlyphs">stars</text></g>
<g><path d="M31.50,576.10 L31.50,572.00 L40.20,572.00 L40.20,534.60 L48.90,534.60 L48.90,479.10 L57.60,479.10 L57.60,464.30 L66.30,464.30 L66.30,470.30 L75.00,470.30 L75.00,495.70 L83.70,495.70 L83.70,508.20 L92.40,508.20 L92.40,525.00 L101.10,525.00 L101.10,540.30 L109.80,540.30 L109.80,549.10 L118.50,549.10 L118.50,562.10 L127.20,562.10 L127.20,567.90 L135.90,567.90 L135.90,569.20 L144.60,569.20 L144.60,571.80 L153.30,571.80 L153.30,573.50 L162.00,573.50 L162.00,574.30 L170.70,574.30 L170.70,574.75 L179.40,574.75 L179.40,575.30 L188.10,575.30 L188.10,576.10" fill="none" stroke="#262626" stroke-width="0.85"/><path d="M30.50,576.00 C30.73,575.97 31.00,576.72 31.90,575.80 C32.80,574.88 34.58,573.37 35.90,570.50 C37.22,567.63 38.48,564.20 39.80,558.60 C41.12,553.00 42.48,545.12 43.80,536.90 C45.12,528.68 46.55,516.53 47.70,509.30 C48.85,502.07 49.72,498.10 50.70,493.50 C51.68,488.90 52.45,485.15 53.60,481.70 C54.75,478.25 56.28,474.77 57.60,472.80 C58.92,470.83 60.03,470.32 61.50,469.90 C62.97,469.48 64.92,469.82 66.40,470.30 C67.88,470.78 69.08,470.90 70.40,472.80 C71.72,474.70 72.82,478.33 74.30,481.70 C75.78,485.07 77.58,489.53 79.30,493.00 C81.02,496.47 83.02,499.32 84.60,502.50 C86.18,505.68 87.37,509.03 88.80,512.10 C90.23,515.17 91.73,518.22 93.20,520.90 C94.67,523.58 96.12,525.50 97.60,528.20 C99.08,530.90 100.62,534.52 102.10,537.10 C103.58,539.68 105.03,541.50 106.50,543.70 C107.97,545.90 109.43,548.35 110.90,550.30 C112.37,552.25 113.83,553.93 115.30,555.40 C116.77,556.87 118.23,557.98 119.70,559.10 C121.17,560.22 122.63,561.17 124.10,562.10 C125.57,563.03 127.03,563.92 128.50,564.70 C129.97,565.48 131.18,566.10 132.90,566.80 C134.62,567.50 136.95,568.25 138.80,568.90 C140.65,569.55 142.30,570.17 144.00,570.70 C145.70,571.23 147.33,571.68 149.00,572.10 C150.67,572.52 152.33,572.88 154.00,573.20 C155.67,573.52 157.33,573.78 159.00,574.00 C160.67,574.22 162.22,574.33 164.00,574.50 C165.78,574.67 167.80,574.88 169.70,575.00 C171.60,575.12 173.52,575.13 175.40,575.20 C177.28,575.27 179.12,575.34 181.00,575.40 C182.88,575.46 184.43,575.50 186.70,575.55 C188.97,575.60 193.28,575.68 194.60,575.70" fill="none" stroke="#000" stroke-width="0.95" stroke-linejoin="round"/><path d="M28.92,576.10v-2.60M28.92,401.10v2.60M35.56,576.10v-1.30M35.56,401.10v1.30M42.20,576.10v-1.30M42.20,401.10v1.30M48.84,576.10v-1.30M48.84,401.10v1.30M55.49,576.10v-1.30M55.49,401.10v1.30M62.13,576.10v-2.60M62.13,401.10v2.60M68.77,576.10v-1.30M68.77,401.10v1.30M75.41,576.10v-1.30M75.41,401.10v1.30M82.05,576.10v-1.30M82.05,401.10v1.30M88.69,576.10v-1.30M88.69,401.10v1.30M95.33,576.10v-2.60M95.33,401.10v2.60M101.97,576.10v-1.30M101.97,401.10v1.30M108.61,576.10v-1.30M108.61,401.10v1.30M115.26,576.10v-1.30M115.26,401.10v1.30M121.90,576.10v-1.30M121.90,401.10v1.30M128.54,576.10v-2.60M128.54,401.10v2.60M135.18,576.10v-1.30M135.18,401.10v1.30M141.82,576.10v-1.30M141.82,401.10v1.30M148.46,576.10v-1.30M148.46,401.10v1.30M155.10,576.10v-1.30M155.10,401.10v1.30M161.74,576.10v-2.60M161.74,401.10v2.60M168.39,576.10v-1.30M168.39,401.10v1.30M175.03,576.10v-1.30M175.03,401.10v1.30M181.67,576.10v-1.30M181.67,401.10v1.30M188.31,576.10v-1.30M188.31,401.10v1.30M194.95,576.10v-2.60M194.95,401.10v2.60M25.60,576.10h2.60M194.95,576.10h-2.60M25.60,569.21h1.30M194.95,569.21h-1.30M25.60,562.32h1.30M194.95,562.32h-1.30M25.60,555.43h1.30M194.95,555.43h-1.30M25.60,548.54h1.30M194.95,548.54h-1.30M25.60,541.65h2.60M194.95,541.65h-2.60M25.60,534.76h1.30M194.95,534.76h-1.30M25.60,527.87h1.30M194.95,527.87h-1.30M25.60,520.98h1.30M194.95,520.98h-1.30M25.60,514.09h1.30M194.95,514.09h-1.30M25.60,507.20h2.60M194.95,507.20h-2.60M25.60,500.31h1.30M194.95,500.31h-1.30M25.60,493.42h1.30M194.95,493.42h-1.30M25.60,486.53h1.30M194.95,486.53h-1.30M25.60,479.64h1.30M194.95,479.64h-1.30M25.60,472.75h2.60M194.95,472.75h-2.60M25.60,465.86h1.30M194.95,465.86h-1.30M25.60,458.97h1.30M194.95,458.97h-1.30M25.60,452.08h1.30M194.95,452.08h-1.30M25.60,445.19h1.30M194.95,445.19h-1.30M25.60,438.30h2.60M194.95,438.30h-2.60M25.60,431.41h1.30M194.95,431.41h-1.30M25.60,424.53h1.30M194.95,424.53h-1.30M25.60,417.64h1.30M194.95,417.64h-1.30M25.60,410.75h1.30M194.95,410.75h-1.30M25.60,403.86h2.60M194.95,403.86h-2.60" stroke="#484848" stroke-width="0.9" fill="none"/><rect x="25.60" y="401.10" width="169.35" height="175.00" fill="none" stroke="#484848" stroke-width="1.15"/><text x="28.92" y="582.70" class="tk" text-anchor="middle">0</text><text x="62.13" y="582.70" class="tk" text-anchor="middle">1</text><text x="95.33" y="582.70" class="tk" text-anchor="middle">2</text><text x="128.54" y="582.70" class="tk" text-anchor="middle">3</text><text x="161.74" y="582.70" class="tk" text-anchor="middle">4</text><text x="194.95" y="582.70" class="tk" text-anchor="middle">5</text><text x="23.60" y="578.60" class="tk" text-anchor="end">0.0</text><text x="23.60" y="544.15" class="tk" text-anchor="end">0.2</text><text x="23.60" y="509.70" class="tk" text-anchor="end">0.4</text><text x="23.60" y="475.25" class="tk" text-anchor="end">0.6</text><text x="23.60" y="440.80" class="tk" text-anchor="end">0.8</text><text x="23.60" y="406.36" class="tk" text-anchor="end">1.0</text><text x="93.77" y="593.00" class="lb bar" text-anchor="middle">|</text><text x="103.47" y="593.00" class="lb bar" text-anchor="middle">|</text><text x="108.87" y="593.00" class="lb bar" text-anchor="middle">[</text><text x="125.97" y="593.00" class="lb bar" text-anchor="middle">]</text><text x="99.07" y="593.00" class="lb" font-style="italic" text-anchor="middle">Z</text><text x="116.97" y="593.00" class="lb" text-anchor="middle" textLength="13.8" lengthAdjust="spacingAndGlyphs">kpc</text><text transform="translate(10.40,488.60) rotate(-90)" class="lb" text-anchor="middle" textLength="29.10" lengthAdjust="spacingAndGlyphs">density</text><text x="186.55" y="416.55" class="tx" text-anchor="end" textLength="36.90" lengthAdjust="spacingAndGlyphs">all plates</text><text x="161.05" y="427.70" class="tx" text-anchor="end" textLength="18.24" lengthAdjust="spacingAndGlyphs">6964</text><text x="166.55" y="427.70" class="tx" textLength="20.00" lengthAdjust="spacingAndGlyphs">stars</text><text x="34.90" y="417.30" class="tx" textLength="24.9" lengthAdjust="spacingAndGlyphs">[Fe/H]</text><text x="67.10" y="417.50" class="tx sym2" text-anchor="middle" textLength="6.2" lengthAdjust="spacingAndGlyphs">&#8805;</text><text x="73.80" y="417.30" class="tx" textLength="6.3" lengthAdjust="spacingAndGlyphs">&#8722;</text><text x="80.50" y="417.30" class="tx" textLength="16.9" lengthAdjust="spacingAndGlyphs">0.70</text></g>
<g><path d="M236.40,576.10 L236.40,569.70 L240.37,569.70 L240.37,557.70 L244.34,557.70 L244.34,527.30 L248.31,527.30 L248.31,502.10 L252.28,502.10 L252.28,480.10 L256.25,480.10 L256.25,470.50 L260.22,470.50 L260.22,470.00 L264.19,470.00 L264.19,470.00 L268.16,470.00 L268.16,483.10 L272.13,483.10 L272.13,490.10 L276.10,490.10 L276.10,498.60 L280.07,498.60 L280.07,513.70 L284.04,513.70 L284.04,514.20 L288.01,514.20 L288.01,524.50 L291.98,524.50 L291.98,529.20 L295.95,529.20 L295.95,543.50 L299.92,543.50 L299.92,544.10 L303.89,544.10 L303.89,553.20 L307.86,553.20 L307.86,556.30 L311.83,556.30 L311.83,561.20 L315.80,561.20 L315.80,567.90 L319.77,567.90 L319.77,571.50 L323.74,571.50 L323.74,575.00 L327.71,575.00 L327.71,576.10" fill="none" stroke="#262626" stroke-width="0.85"/><path d="M233.50,576.00 C233.67,575.95 233.95,576.47 234.50,575.70 C235.05,574.93 236.03,573.45 236.80,571.40 C237.57,569.35 238.33,566.25 239.10,563.40 C239.87,560.55 240.73,557.52 241.40,554.30 C242.07,551.08 242.63,547.32 243.10,544.10 C243.57,540.88 243.73,538.42 244.20,535.00 C244.67,531.58 245.40,526.93 245.90,523.60 C246.40,520.27 246.85,517.25 247.20,515.00 C247.55,512.75 247.62,512.75 248.00,510.10 C248.38,507.45 249.00,502.60 249.50,499.10 C250.00,495.60 250.50,492.10 251.00,489.10 C251.50,486.10 252.00,483.45 252.50,481.10 C253.00,478.75 253.42,476.68 254.00,475.00 C254.58,473.32 255.25,471.92 256.00,471.00 C256.75,470.08 257.67,469.67 258.50,469.50 C259.33,469.33 260.15,469.58 261.00,470.00 C261.85,470.42 262.75,471.17 263.60,472.00 C264.45,472.83 265.18,473.82 266.10,475.00 C267.02,476.18 268.10,477.58 269.10,479.10 C270.10,480.62 271.10,482.27 272.10,484.10 C273.10,485.93 274.10,488.02 275.10,490.10 C276.10,492.18 277.10,494.43 278.10,496.60 C279.10,498.77 280.10,500.85 281.10,503.10 C282.10,505.35 283.22,507.75 284.10,510.10 C284.98,512.45 285.57,514.70 286.40,517.20 C287.23,519.70 288.13,522.55 289.10,525.10 C290.07,527.65 291.18,530.05 292.20,532.50 C293.22,534.95 294.18,537.57 295.20,539.80 C296.22,542.03 297.28,543.97 298.30,545.90 C299.32,547.83 300.28,549.67 301.30,551.40 C302.32,553.13 303.38,554.72 304.40,556.30 C305.42,557.88 306.38,559.48 307.40,560.90 C308.42,562.32 309.48,563.53 310.50,564.80 C311.52,566.07 312.48,567.38 313.50,568.50 C314.52,569.62 315.58,570.63 316.60,571.50 C317.62,572.37 318.58,573.12 319.60,573.70 C320.62,574.28 321.68,574.68 322.70,575.00 C323.72,575.32 324.18,575.45 325.70,575.60 C327.22,575.75 330.78,575.85 331.80,575.90" fill="none" stroke="#000" stroke-width="0.95" stroke-linejoin="round"/><path d="M230.17,576.10v-2.60M230.17,401.10v2.60M236.81,576.10v-1.30M236.81,401.10v1.30M243.45,576.10v-1.30M243.45,401.10v1.30M250.09,576.10v-1.30M250.09,401.10v1.30M256.74,576.10v-1.30M256.74,401.10v1.30M263.38,576.10v-2.60M263.38,401.10v2.60M270.02,576.10v-1.30M270.02,401.10v1.30M276.66,576.10v-1.30M276.66,401.10v1.30M283.30,576.10v-1.30M283.30,401.10v1.30M289.94,576.10v-1.30M289.94,401.10v1.30M296.58,576.10v-2.60M296.58,401.10v2.60M303.22,576.10v-1.30M303.22,401.10v1.30M309.86,576.10v-1.30M309.86,401.10v1.30M316.51,576.10v-1.30M316.51,401.10v1.30M323.15,576.10v-1.30M323.15,401.10v1.30M329.79,576.10v-2.60M329.79,401.10v2.60M336.43,576.10v-1.30M336.43,401.10v1.30M343.07,576.10v-1.30M343.07,401.10v1.30M349.71,576.10v-1.30M349.71,401.10v1.30M356.35,576.10v-1.30M356.35,401.10v1.30M362.99,576.10v-2.60M362.99,401.10v2.60M369.64,576.10v-1.30M369.64,401.10v1.30M376.28,576.10v-1.30M376.28,401.10v1.30M382.92,576.10v-1.30M382.92,401.10v1.30M389.56,576.10v-1.30M389.56,401.10v1.30M396.20,576.10v-2.60M396.20,401.10v2.60M226.85,576.10h2.60M396.20,576.10h-2.60M226.85,570.55h1.30M396.20,570.55h-1.30M226.85,565.01h1.30M396.20,565.01h-1.30M226.85,559.46h1.30M396.20,559.46h-1.30M226.85,553.91h1.30M396.20,553.91h-1.30M226.85,548.37h2.60M396.20,548.37h-2.60M226.85,542.82h1.30M396.20,542.82h-1.30M226.85,537.27h1.30M396.20,537.27h-1.30M226.85,531.73h1.30M396.20,531.73h-1.30M226.85,526.18h1.30M396.20,526.18h-1.30M226.85,520.63h2.60M396.20,520.63h-2.60M226.85,515.09h1.30M396.20,515.09h-1.30M226.85,509.54h1.30M396.20,509.54h-1.30M226.85,503.99h1.30M396.20,503.99h-1.30M226.85,498.45h1.30M396.20,498.45h-1.30M226.85,492.90h2.60M396.20,492.90h-2.60M226.85,487.35h1.30M396.20,487.35h-1.30M226.85,481.81h1.30M396.20,481.81h-1.30M226.85,476.26h1.30M396.20,476.26h-1.30M226.85,470.71h1.30M396.20,470.71h-1.30M226.85,465.16h2.60M396.20,465.16h-2.60M226.85,459.62h1.30M396.20,459.62h-1.30M226.85,454.07h1.30M396.20,454.07h-1.30M226.85,448.52h1.30M396.20,448.52h-1.30M226.85,442.98h1.30M396.20,442.98h-1.30M226.85,437.43h2.60M396.20,437.43h-2.60M226.85,431.88h1.30M396.20,431.88h-1.30M226.85,426.34h1.30M396.20,426.34h-1.30M226.85,420.79h1.30M396.20,420.79h-1.30M226.85,415.24h1.30M396.20,415.24h-1.30M226.85,409.70h2.60M396.20,409.70h-2.60M226.85,404.15h1.30M396.20,404.15h-1.30" stroke="#484848" stroke-width="0.9" fill="none"/><rect x="226.85" y="401.10" width="169.35" height="175.00" fill="none" stroke="#484848" stroke-width="1.15"/><text x="230.17" y="582.70" class="tk" text-anchor="middle">0</text><text x="263.38" y="582.70" class="tk" text-anchor="middle">1</text><text x="296.58" y="582.70" class="tk" text-anchor="middle">2</text><text x="329.79" y="582.70" class="tk" text-anchor="middle">3</text><text x="362.99" y="582.70" class="tk" text-anchor="middle">4</text><text x="396.20" y="582.70" class="tk" text-anchor="middle">5</text><text x="224.85" y="578.60" class="tk" text-anchor="end">0.0</text><text x="224.85" y="550.87" class="tk" text-anchor="end">0.2</text><text x="224.85" y="523.13" class="tk" text-anchor="end">0.4</text><text x="224.85" y="495.40" class="tk" text-anchor="end">0.6</text><text x="224.85" y="467.66" class="tk" text-anchor="end">0.8</text><text x="224.85" y="439.93" class="tk" text-anchor="end">1.0</text><text x="224.85" y="412.20" class="tk" text-anchor="end">1.2</text><text x="295.02" y="593.00" class="lb bar" text-anchor="middle">|</text><text x="304.72" y="593.00" class="lb bar" text-anchor="middle">|</text><text x="310.12" y="593.00" class="lb bar" text-anchor="middle">[</text><text x="327.22" y="593.00" class="lb bar" text-anchor="middle">]</text><text x="300.32" y="593.00" class="lb" font-style="italic" text-anchor="middle">Z</text><text x="318.22" y="593.00" class="lb" text-anchor="middle" textLength="13.8" lengthAdjust="spacingAndGlyphs">kpc</text><text transform="translate(211.65,488.60) rotate(-90)" class="lb" text-anchor="middle" textLength="29.10" lengthAdjust="spacingAndGlyphs">density</text><text x="387.80" y="416.55" class="tx" text-anchor="end" textLength="52.20" lengthAdjust="spacingAndGlyphs">bright plates</text><text x="362.30" y="427.70" class="tx" text-anchor="end" textLength="18.24" lengthAdjust="spacingAndGlyphs">5577</text><text x="367.80" y="427.70" class="tx" textLength="20.00" lengthAdjust="spacingAndGlyphs">stars</text></g>
<g><path d="M451.60,576.10 L451.60,558.20 L460.00,558.20 L460.00,518.40 L468.40,518.40 L468.40,493.60 L476.80,493.60 L476.80,490.60 L485.20,490.60 L485.20,484.60 L493.60,484.60 L493.60,469.80 L502.00,469.80 L502.00,488.10 L510.40,488.10 L510.40,477.60 L518.80,477.60 L518.80,493.10 L527.20,493.10 L527.20,524.60 L535.60,524.60 L535.60,533.40 L544.00,533.40 L544.00,549.50 L552.40,549.50 L552.40,557.00 L560.80,557.00 L560.80,565.80 L569.20,565.80 L569.20,564.20 L577.60,564.20 L577.60,570.40 L586.00,570.40 L586.00,576.10" fill="none" stroke="#262626" stroke-width="0.85"/><path d="M451.00,575.50 C451.67,573.58 453.67,568.75 455.00,564.00 C456.33,559.25 457.67,552.67 459.00,547.00 C460.33,541.33 461.83,536.50 463.00,530.00 C464.17,523.50 465.00,513.82 466.00,508.00 C467.00,502.18 468.17,498.58 469.00,495.10 C469.83,491.62 470.17,489.27 471.00,487.10 C471.83,484.93 473.00,483.52 474.00,482.10 C475.00,480.68 475.83,479.60 477.00,478.60 C478.17,477.60 479.65,476.77 481.00,476.10 C482.35,475.43 483.75,475.18 485.10,474.60 C486.45,474.02 487.77,473.28 489.10,472.60 C490.43,471.92 491.78,470.97 493.10,470.50 C494.42,470.03 495.68,469.72 497.00,469.80 C498.32,469.88 499.67,470.13 501.00,471.00 C502.33,471.87 503.50,473.17 505.00,475.00 C506.50,476.83 508.33,479.58 510.00,482.00 C511.67,484.42 513.33,487.00 515.00,489.50 C516.67,492.00 518.33,494.25 520.00,497.00 C521.67,499.75 523.33,502.92 525.00,506.00 C526.67,509.08 528.33,512.33 530.00,515.50 C531.67,518.67 533.33,521.75 535.00,525.00 C536.67,528.25 538.33,531.92 540.00,535.00 C541.67,538.08 543.33,540.92 545.00,543.50 C546.67,546.08 548.33,548.42 550.00,550.50 C551.67,552.58 553.33,554.33 555.00,556.00 C556.67,557.67 558.33,559.08 560.00,560.50 C561.67,561.92 563.33,563.33 565.00,564.50 C566.67,565.67 568.33,566.62 570.00,567.50 C571.67,568.38 573.33,569.10 575.00,569.80 C576.67,570.50 578.33,571.15 580.00,571.70 C581.67,572.25 583.33,572.68 585.00,573.10 C586.67,573.52 588.00,573.83 590.00,574.20 C592.00,574.57 595.83,575.12 597.00,575.30" fill="none" stroke="#4a4a4a" stroke-width="0.8" stroke-dasharray="1.1,1.3"/><path d="M451.00,575.50 C451.67,573.42 453.67,568.08 455.00,563.00 C456.33,557.92 457.67,551.00 459.00,545.00 C460.33,539.00 461.83,533.50 463.00,527.00 C464.17,520.50 465.00,511.67 466.00,506.00 C467.00,500.33 468.17,496.00 469.00,493.00 C469.83,490.00 470.33,489.82 471.00,488.00 C471.67,486.18 472.17,483.75 473.00,482.10 C473.83,480.45 474.83,479.27 476.00,478.10 C477.17,476.93 478.48,475.93 480.00,475.10 C481.52,474.27 483.58,473.62 485.10,473.10 C486.62,472.58 487.78,472.38 489.10,472.00 C490.42,471.62 491.68,471.10 493.00,470.80 C494.32,470.50 495.67,470.08 497.00,470.20 C498.33,470.32 499.67,470.62 501.00,471.50 C502.33,472.38 503.50,473.67 505.00,475.50 C506.50,477.33 508.33,480.08 510.00,482.50 C511.67,484.92 513.33,487.50 515.00,490.00 C516.67,492.50 518.33,494.75 520.00,497.50 C521.67,500.25 523.33,503.42 525.00,506.50 C526.67,509.58 528.33,512.83 530.00,516.00 C531.67,519.17 533.33,522.25 535.00,525.50 C536.67,528.75 538.33,532.42 540.00,535.50 C541.67,538.58 543.33,541.42 545.00,544.00 C546.67,546.58 548.33,548.92 550.00,551.00 C551.67,553.08 553.33,554.83 555.00,556.50 C556.67,558.17 558.33,559.58 560.00,561.00 C561.67,562.42 563.33,563.83 565.00,565.00 C566.67,566.17 568.33,567.13 570.00,568.00 C571.67,568.87 573.33,569.53 575.00,570.20 C576.67,570.87 578.33,571.47 580.00,572.00 C581.67,572.53 583.33,573.00 585.00,573.40 C586.67,573.80 588.00,574.07 590.00,574.40 C592.00,574.73 595.83,575.23 597.00,575.40" fill="none" stroke="#4a4a4a" stroke-width="0.8" stroke-dasharray="2.6,1.4"/><path d="M450.00,576.00 C450.15,575.90 450.43,576.22 450.90,575.40 C451.37,574.58 452.15,573.02 452.80,571.10 C453.45,569.18 454.15,566.62 454.80,563.90 C455.45,561.18 456.05,557.85 456.70,554.80 C457.35,551.75 458.05,548.65 458.70,545.60 C459.35,542.55 459.95,539.43 460.60,536.50 C461.25,533.57 461.93,530.60 462.60,528.00 C463.27,525.40 463.95,523.40 464.60,520.90 C465.25,518.40 465.85,515.40 466.50,513.00 C467.15,510.60 467.85,508.67 468.50,506.50 C469.15,504.33 469.77,502.00 470.40,500.00 C471.03,498.00 471.53,496.23 472.30,494.50 C473.07,492.77 474.05,491.00 475.00,489.60 C475.95,488.20 477.00,487.18 478.00,486.10 C479.00,485.02 479.98,484.10 481.00,483.10 C482.02,482.10 483.08,481.18 484.10,480.10 C485.12,479.02 486.10,477.68 487.10,476.60 C488.10,475.52 489.10,474.53 490.10,473.60 C491.10,472.67 492.10,471.63 493.10,471.00 C494.10,470.37 495.10,469.97 496.10,469.80 C497.10,469.63 498.10,469.62 499.10,470.00 C500.10,470.38 501.10,471.08 502.10,472.10 C503.10,473.12 504.10,474.77 505.10,476.10 C506.10,477.43 507.10,478.77 508.10,480.10 C509.10,481.43 510.10,482.77 511.10,484.10 C512.10,485.43 513.08,486.70 514.10,488.10 C515.12,489.50 516.22,490.85 517.20,492.50 C518.18,494.15 518.87,495.92 520.00,498.00 C521.13,500.08 522.63,502.42 524.00,505.00 C525.37,507.58 526.77,510.73 528.20,513.50 C529.63,516.27 531.12,518.65 532.60,521.60 C534.08,524.55 535.62,528.13 537.10,531.20 C538.58,534.27 540.03,537.30 541.50,540.00 C542.97,542.70 544.43,545.20 545.90,547.40 C547.37,549.60 548.83,551.50 550.30,553.20 C551.77,554.90 553.23,556.12 554.70,557.60 C556.17,559.08 557.63,560.87 559.10,562.10 C560.57,563.33 561.88,564.10 563.50,565.00 C565.12,565.90 567.22,566.78 568.80,567.50 C570.38,568.22 571.60,568.72 573.00,569.30 C574.40,569.88 575.82,570.50 577.20,571.00 C578.58,571.50 579.92,571.92 581.30,572.30 C582.68,572.68 584.10,572.98 585.50,573.30 C586.90,573.62 588.32,573.95 589.70,574.20 C591.08,574.45 592.55,574.60 593.80,574.80 C595.05,575.00 596.63,575.30 597.20,575.40" fill="none" stroke="#000" stroke-width="0.95" stroke-linejoin="round"/><path d="M431.37,576.10v-2.60M431.37,401.10v2.60M438.01,576.10v-1.30M438.01,401.10v1.30M444.65,576.10v-1.30M444.65,401.10v1.30M451.29,576.10v-1.30M451.29,401.10v1.30M457.94,576.10v-1.30M457.94,401.10v1.30M464.58,576.10v-2.60M464.58,401.10v2.60M471.22,576.10v-1.30M471.22,401.10v1.30M477.86,576.10v-1.30M477.86,401.10v1.30M484.50,576.10v-1.30M484.50,401.10v1.30M491.14,576.10v-1.30M491.14,401.10v1.30M497.78,576.10v-2.60M497.78,401.10v2.60M504.42,576.10v-1.30M504.42,401.10v1.30M511.06,576.10v-1.30M511.06,401.10v1.30M517.71,576.10v-1.30M517.71,401.10v1.30M524.35,576.10v-1.30M524.35,401.10v1.30M530.99,576.10v-2.60M530.99,401.10v2.60M537.63,576.10v-1.30M537.63,401.10v1.30M544.27,576.10v-1.30M544.27,401.10v1.30M550.91,576.10v-1.30M550.91,401.10v1.30M557.55,576.10v-1.30M557.55,401.10v1.30M564.19,576.10v-2.60M564.19,401.10v2.60M570.84,576.10v-1.30M570.84,401.10v1.30M577.48,576.10v-1.30M577.48,401.10v1.30M584.12,576.10v-1.30M584.12,401.10v1.30M590.76,576.10v-1.30M590.76,401.10v1.30M597.40,576.10v-2.60M597.40,401.10v2.60M428.05,576.10h2.60M597.40,576.10h-2.60M428.05,571.68h1.30M597.40,571.68h-1.30M428.05,567.25h1.30M597.40,567.25h-1.30M428.05,562.83h1.30M597.40,562.83h-1.30M428.05,558.40h1.30M597.40,558.40h-1.30M428.05,553.98h2.60M597.40,553.98h-2.60M428.05,549.55h1.30M597.40,549.55h-1.30M428.05,545.13h1.30M597.40,545.13h-1.30M428.05,540.70h1.30M597.40,540.70h-1.30M428.05,536.28h1.30M597.40,536.28h-1.30M428.05,531.85h2.60M597.40,531.85h-2.60M428.05,527.43h1.30M597.40,527.43h-1.30M428.05,523.00h1.30M597.40,523.00h-1.30M428.05,518.58h1.30M597.40,518.58h-1.30M428.05,514.15h1.30M597.40,514.15h-1.30M428.05,509.73h2.60M597.40,509.73h-2.60M428.05,505.30h1.30M597.40,505.30h-1.30M428.05,500.88h1.30M597.40,500.88h-1.30M428.05,496.45h1.30M597.40,496.45h-1.30M428.05,492.03h1.30M597.40,492.03h-1.30M428.05,487.60h2.60M597.40,487.60h-2.60M428.05,483.18h1.30M597.40,483.18h-1.30M428.05,478.75h1.30M597.40,478.75h-1.30M428.05,474.33h1.30M597.40,474.33h-1.30M428.05,469.91h1.30M597.40,469.91h-1.30M428.05,465.48h2.60M597.40,465.48h-2.60M428.05,461.06h1.30M597.40,461.06h-1.30M428.05,456.63h1.30M597.40,456.63h-1.30M428.05,452.21h1.30M597.40,452.21h-1.30M428.05,447.78h1.30M597.40,447.78h-1.30M428.05,443.36h2.60M597.40,443.36h-2.60M428.05,438.93h1.30M597.40,438.93h-1.30M428.05,434.51h1.30M597.40,434.51h-1.30M428.05,430.08h1.30M597.40,430.08h-1.30M428.05,425.66h1.30M597.40,425.66h-1.30M428.05,421.23h2.60M597.40,421.23h-2.60M428.05,416.81h1.30M597.40,416.81h-1.30M428.05,412.38h1.30M597.40,412.38h-1.30M428.05,407.96h1.30M597.40,407.96h-1.30M428.05,403.53h1.30M597.40,403.53h-1.30" stroke="#484848" stroke-width="0.9" fill="none"/><rect x="428.05" y="401.10" width="169.35" height="175.00" fill="none" stroke="#484848" stroke-width="1.15"/><text x="431.37" y="582.70" class="tk" text-anchor="middle">0</text><text x="464.58" y="582.70" class="tk" text-anchor="middle">1</text><text x="497.78" y="582.70" class="tk" text-anchor="middle">2</text><text x="530.99" y="582.70" class="tk" text-anchor="middle">3</text><text x="564.19" y="582.70" class="tk" text-anchor="middle">4</text><text x="597.40" y="582.70" class="tk" text-anchor="middle">5</text><text x="426.05" y="578.60" class="tk" text-anchor="end">0.0</text><text x="426.05" y="556.48" class="tk" text-anchor="end">0.1</text><text x="426.05" y="534.35" class="tk" text-anchor="end">0.2</text><text x="426.05" y="512.23" class="tk" text-anchor="end">0.3</text><text x="426.05" y="490.10" class="tk" text-anchor="end">0.4</text><text x="426.05" y="467.98" class="tk" text-anchor="end">0.5</text><text x="426.05" y="445.86" class="tk" text-anchor="end">0.6</text><text x="426.05" y="423.73" class="tk" text-anchor="end">0.7</text><text x="496.23" y="593.00" class="lb bar" text-anchor="middle">|</text><text x="505.93" y="593.00" class="lb bar" text-anchor="middle">|</text><text x="511.33" y="593.00" class="lb bar" text-anchor="middle">[</text><text x="528.43" y="593.00" class="lb bar" text-anchor="middle">]</text><text x="501.53" y="593.00" class="lb" font-style="italic" text-anchor="middle">Z</text><text x="519.43" y="593.00" class="lb" text-anchor="middle" textLength="13.8" lengthAdjust="spacingAndGlyphs">kpc</text><text transform="translate(412.85,488.60) rotate(-90)" class="lb" text-anchor="middle" textLength="29.10" lengthAdjust="spacingAndGlyphs">density</text><text x="589.00" y="416.55" class="tx" text-anchor="end" textLength="45.70" lengthAdjust="spacingAndGlyphs">faint plates</text><text x="563.50" y="427.70" class="tx" text-anchor="end" textLength="18.24" lengthAdjust="spacingAndGlyphs">1387</text><text x="569.00" y="427.70" class="tx" textLength="20.00" lengthAdjust="spacingAndGlyphs">stars</text></g>
</svg>
</body></html>
